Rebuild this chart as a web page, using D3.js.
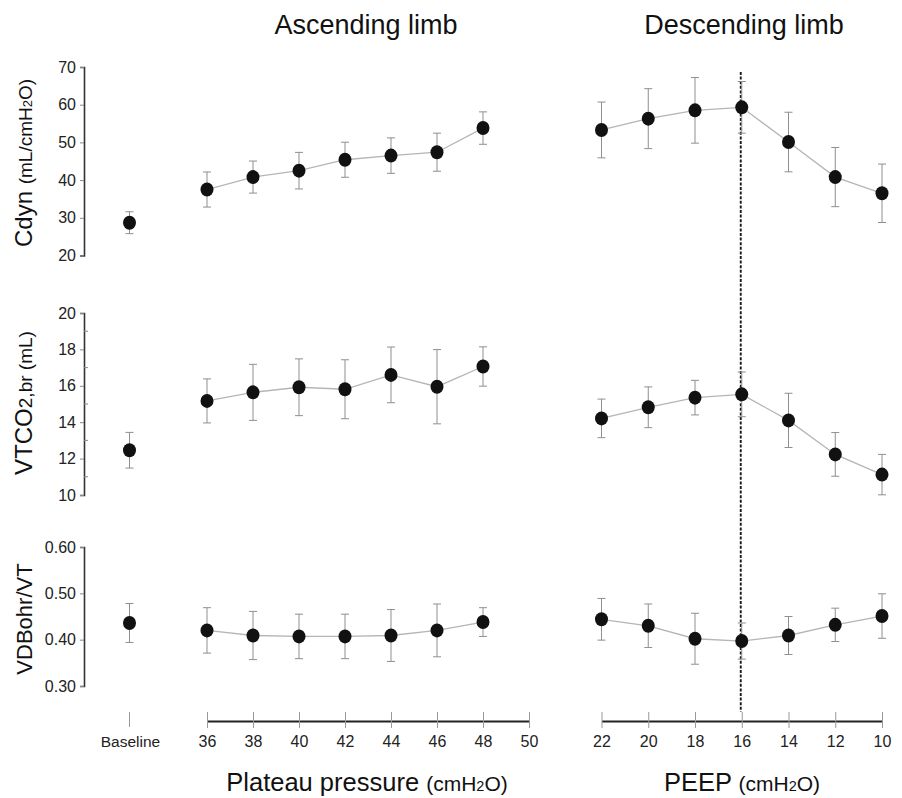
<!DOCTYPE html>
<html>
<head>
<meta charset="utf-8">
<script src="https://cdn.jsdelivr.net/npm/d3@7"></script>
<style>
  html, body { margin: 0; padding: 0; background: #fff; }
  svg { display: block; font-family: "Liberation Sans", Arial, Helvetica, sans-serif; }
</style>
</head>
<body>
<svg id="chart" width="902" height="798"></svg>
<script>
// ---------- data ----------
const plateauTicks = [36, 38, 40, 42, 44, 46, 48, 50];
const plateauLevels = [36, 38, 40, 42, 44, 46, 48];
const peepLevels = [22, 20, 18, 16, 14, 12, 10];
const baselineLabel = "Baseline";

const cdynBaseline = { mean: 28.7, sd: 2.9 };
const cdynAscMean = [37.5, 40.8, 42.5, 45.4, 46.5, 47.4, 53.8];
const cdynAscSd   = [4.65, 4.25, 4.85, 4.65, 4.7, 5.05, 4.3];
const cdynDescMean = [53.3, 56.3, 58.5, 59.3, 50.1, 40.8, 36.5];
const cdynDescSd   = [7.4, 7.95, 8.7, 6.85, 7.9, 7.85, 7.75];

const vtcoBaseline = { mean: 12.46, sd: 0.98 };
const vtcoAscMean = [15.17, 15.64, 15.92, 15.81, 16.6, 15.95, 17.06];
const vtcoAscSd   = [1.21, 1.54, 1.56, 1.62, 1.53, 2.04, 1.08];
const vtcoDescMean = [14.21, 14.82, 15.35, 15.53, 14.1, 12.23, 11.12];
const vtcoDescSd   = [1.06, 1.12, 0.95, 1.23, 1.49, 1.2, 1.11];

const vdBaseline = { mean: 0.436, sd: 0.042 };
const vdAscMean = [0.420, 0.409, 0.407, 0.407, 0.409, 0.420, 0.438];
const vdAscSd   = [0.049, 0.052, 0.048, 0.048, 0.056, 0.057, 0.031];
const vdDescMean = [0.444, 0.430, 0.402, 0.397, 0.409, 0.432, 0.451];
const vdDescSd   = [0.045, 0.047, 0.055, 0.039, 0.041, 0.036, 0.048];

const cdynTicks = [20, 30, 40, 50, 60, 70];
const vtcoTicks = [10, 12, 14, 16, 18, 20];
const vtcoMinor = [11, 13, 15, 17, 19];
const vdTicks = [0.30, 0.40, 0.50, 0.60];
const optimalPeep = 16;

// ---------- layout ----------
const svg = d3.select("#chart");
const FONT = '"Liberation Sans", Arial, Helvetica, sans-serif';
const axisX = 84;
const bottomAxisY = 721;
const baselineX = 129.5;

const xAsc = d3.scaleLinear().domain([36, 50]).range([207, 529]);
const xDesc = d3.scaleLinear().domain([22, 10]).range([601.5, 882]);

const panels = [
  { y: d3.scaleLinear().domain([20, 70]).range([255.5, 67]), ticks: cdynTicks, fmt: d3.format("d"),
    base: cdynBaseline, ascM: cdynAscMean, ascS: cdynAscSd, descM: cdynDescMean, descS: cdynDescSd,
    label: [["Cdyn ", 24], ["(mL/cmH", 19], ["2", 13], ["O)", 19]], labelY: 163 },
  { y: d3.scaleLinear().domain([10, 20]).range([495, 313]), ticks: vtcoTicks, minor: vtcoMinor, fmt: d3.format("d"),
    base: vtcoBaseline, ascM: vtcoAscMean, ascS: vtcoAscSd, descM: vtcoDescMean, descS: vtcoDescSd,
    label: [["VTCO", 24], ["2,br", 19], [" (mL)", 19]], labelY: 403 },
  { y: d3.scaleLinear().domain([0.3, 0.6]).range([686, 547]), ticks: vdTicks, fmt: d3.format(".2f"),
    base: vdBaseline, ascM: vdAscMean, ascS: vdAscSd, descM: vdDescMean, descS: vdDescSd,
    label: [["VDBohr/VT", 22]], labelY: 619 }
];

// titles
svg.append("text").attr("x", 366).attr("y", 34).attr("text-anchor", "middle")
  .attr("font-size", 27).attr("fill", "#111").text("Ascending limb");
svg.append("text").attr("x", 744).attr("y", 34).attr("text-anchor", "middle")
  .attr("font-size", 27).attr("fill", "#111").text("Descending limb");

// dashed reference line at optimal PEEP
svg.append("line")
  .attr("x1", xDesc(optimalPeep) - 1).attr("x2", xDesc(optimalPeep) - 1)
  .attr("y1", 72).attr("y2", 712)
  .attr("stroke", "#1a1a1a").attr("stroke-width", 1.9).attr("stroke-dasharray", "3,1.6");

function drawSeries(g, xs, means, sds, y) {
  const line = d3.line().x((d, i) => xs[i]).y(d => y(d));
  g.append("path").datum(means).attr("d", line)
    .attr("fill", "none").attr("stroke", "#b5b5b5").attr("stroke-width", 1.3);
  drawPoints(g, xs, means, sds, y);
}
function drawPoints(g, xs, means, sds, y) {
  means.forEach((m, i) => {
    const x = xs[i], s = sds[i];
    const eb = g.append("g").attr("stroke", "#8f8f8f").attr("stroke-width", 1);
    eb.append("line").attr("x1", x).attr("x2", x).attr("y1", y(m + s)).attr("y2", y(m - s));
    eb.append("line").attr("x1", x - 4).attr("x2", x + 4).attr("y1", y(m + s)).attr("y2", y(m + s));
    eb.append("line").attr("x1", x - 4).attr("x2", x + 4).attr("y1", y(m - s)).attr("y2", y(m - s));
  });
  means.forEach((m, i) => {
    g.append("ellipse").attr("cx", xs[i]).attr("cy", y(m)).attr("rx", 6.5).attr("ry", 7)
      .attr("fill", "#111");
  });
}

panels.forEach(p => {
  const g = svg.append("g");
  // y axis
  const ax = g.append("g").attr("transform", `translate(${axisX},0)`)
    .call(d3.axisLeft(p.y).tickValues(p.ticks).tickFormat(p.fmt).tickSize(4).tickPadding(4));
  ax.select(".domain").attr("stroke", "#333").attr("stroke-width", 1.6);
  ax.selectAll(".tick line").attr("stroke", "#888");
  ax.selectAll(".tick text").attr("font-size", 16).attr("font-family", FONT).attr("fill", "#222");
  if (p.minor) {
    g.selectAll(".minor").data(p.minor).join("line")
      .attr("x1", axisX).attr("x2", axisX + 4)
      .attr("y1", d => p.y(d)).attr("y2", d => p.y(d))
      .attr("stroke", "#888");
  }
  // y label
  const t = g.append("text")
    .attr("transform", `translate(31.5,${p.labelY}) rotate(-90)`)
    .attr("text-anchor", "middle").attr("fill", "#111");
  p.label.forEach(([s, fs]) => t.append("tspan").attr("font-size", fs).text(s));

  // baseline point
  drawPoints(g, [baselineX], [p.base.mean], [p.base.sd], p.y);
  // ascending & descending limbs
  drawSeries(g, plateauLevels.map(xAsc), p.ascM, p.ascS, p.y);
  drawSeries(g, peepLevels.map(xDesc), p.descM, p.descS, p.y);
});

// bottom axes
function styleBottom(ax) {
  ax.select(".domain").attr("stroke", "#222").attr("stroke-width", 2.2);
  ax.selectAll(".tick line").attr("y1", -9).attr("y2", 7).attr("stroke", "#999");
  ax.selectAll(".tick text").attr("y", 26).attr("dy", 0)
    .attr("font-size", 16).attr("font-family", FONT).attr("fill", "#222");
}
const axAsc = svg.append("g").attr("transform", `translate(0,${bottomAxisY})`)
  .call(d3.axisBottom(xAsc).tickValues(plateauTicks).tickFormat(d3.format("d")).tickSizeOuter(0));
styleBottom(axAsc);
const axDesc = svg.append("g").attr("transform", `translate(0,${bottomAxisY})`)
  .call(d3.axisBottom(xDesc).tickValues(peepLevels).tickFormat(d3.format("d")).tickSizeOuter(0));
styleBottom(axDesc);

// baseline tick + label
svg.append("line").attr("x1", baselineX).attr("x2", baselineX)
  .attr("y1", bottomAxisY - 9).attr("y2", bottomAxisY + 6).attr("stroke", "#999");
svg.append("text").attr("x", baselineX + 1).attr("y", bottomAxisY + 26).attr("text-anchor", "middle")
  .attr("font-size", 15.5).attr("fill", "#222").text(baselineLabel);

// x axis titles
function xTitle(x, main) {
  const t = svg.append("text").attr("x", x).attr("y", 791).attr("text-anchor", "middle").attr("fill", "#111");
  t.append("tspan").attr("font-size", 25.5).text(main + " ");
  t.append("tspan").attr("font-size", 21).text("(cmH");
  t.append("tspan").attr("font-size", 14.5).text("2");
  t.append("tspan").attr("font-size", 21).text("O)");
}
xTitle(367, "Plateau pressure");
xTitle(742, "PEEP");
</script>
</body>
</html>
